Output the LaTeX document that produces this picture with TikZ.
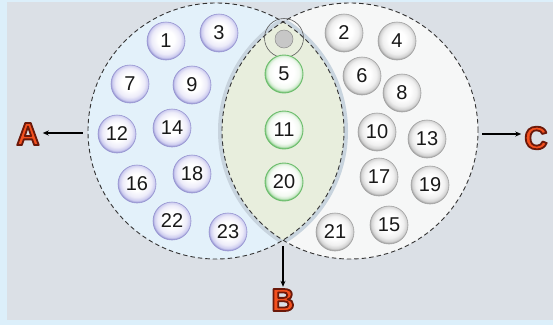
\documentclass[tikz,border=0pt]{standalone}
\usepackage{fontspec}
\setmainfont{Liberation Sans}
\usetikzlibrary{arrows.meta}
\definecolor{frame}{HTML}{DCEFFA}
\definecolor{bg}{HTML}{DBE0E6}
\definecolor{setA}{HTML}{E3F1FA}
\definecolor{setC}{HTML}{F6F7F7}
\definecolor{lens}{HTML}{E8EEDD}
\definecolor{band}{HTML}{C8D4DE}
\definecolor{lavmid}{HTML}{EDECF9}
\definecolor{lavout}{HTML}{C9C8EE}
\definecolor{lavrim}{HTML}{9896D2}
\definecolor{graymid}{HTML}{F0F0F0}
\definecolor{grayout}{HTML}{CFCFCF}
\definecolor{grayrim}{HTML}{A3A3A3}
\definecolor{grnmid}{HTML}{F3F9F2}
\definecolor{grnout}{HTML}{C4E6C2}
\definecolor{grnrim}{HTML}{6EBE6E}
\definecolor{letter}{HTML}{F4501E}
\newcommand{\outlined}[1]{\special{pdf:literal direct 2 Tr 1.8 w 0.42 0.1 0.04 RG 1 j}#1\special{pdf:literal direct 0 Tr}}
\pgfdeclareradialshading{lavshade}{\pgfpoint{0bp}{3bp}}{color(0bp)=(white); color(11bp)=(white); color(19bp)=(lavmid); color(24bp)=(lavout); color(25bp)=(lavrim); color(50bp)=(lavrim)}
\pgfdeclareradialshading{grayshade}{\pgfpoint{0bp}{3bp}}{color(0bp)=(white); color(11bp)=(white); color(19bp)=(graymid); color(24bp)=(grayout); color(25bp)=(grayrim); color(50bp)=(grayrim)}
\pgfdeclareradialshading{grnshade}{\pgfpoint{0bp}{3bp}}{color(0bp)=(white); color(13bp)=(white); color(20bp)=(grnmid); color(24bp)=(grnout); color(25bp)=(grnrim); color(50bp)=(grnrim)}
\tikzset{
  ball/.style={circle, minimum size=38pt, inner sep=0pt, line width=0.6pt, font=\fontsize{20}{20}\selectfont, text=black!90},
  lavball/.style={ball, shade, shading=lavshade, draw=lavrim},
  grayball/.style={ball, shade, shading=grayshade, draw=grayrim},
  grnball/.style={ball, shade, shading=grnshade, draw=grnrim, line width=0.9pt},
  setcirc/.style={circle, minimum size=256pt, inner sep=0pt},
  dashedset/.style={draw=black!80, line width=0.9pt, dash pattern=on 4.5pt off 3pt},
  setlabel/.style={inner sep=0pt, font=\fontsize{32}{32}\selectfont\bfseries, text=letter},
  arr/.style={line width=1.1pt, -{Stealth[length=6pt,width=5pt]}}
}
\begin{document}
\begin{tikzpicture}[x=1pt,y=-1pt]
\useasboundingbox (0,0) rectangle (553,325);
\fill[frame] (0,0) rectangle (553,325);
\fill[bg] (7,2) rectangle (553,320);
% set circles
\node[setcirc] (L) at (216,131) {};
\node[setcirc] (R) at (350,131) {};
\fill[setA] (L.center) circle[radius=128pt];
\fill[setC] (R.center) circle[radius=128pt];
\begin{scope}
  \clip (L.center) circle[radius=128pt];
  \draw[band, line width=8pt] (R.center) circle[radius=128pt];
\end{scope}
\begin{scope}
  \clip (R.center) circle[radius=128pt];
  \draw[band, line width=8pt] (L.center) circle[radius=128pt];
\end{scope}
\begin{scope}
  \clip (L.center) circle[radius=128pt];
  \fill[lens] (R.center) circle[radius=128pt];
\end{scope}
\draw[dashedset] (L.center) circle[radius=128pt];
\draw[dashedset] (R.center) circle[radius=128pt];
\coordinate (bot) at (283,240);
% top marker
\node[circle, draw=black!65, line width=0.6pt, minimum size=39pt, inner sep=0pt] (top) at (284,38) {};
\node[circle, fill=black!22, draw=black!45, line width=0.5pt, minimum size=18pt, inner sep=0pt] (topdot) at (284,39) {};
% set A
\node[lavball] (a1) at (166,41) {1};
\node[lavball] (a3) at (219,33) {3};
\node[lavball] (a7) at (130,84) {7};
\node[lavball] (a9) at (192,85) {9};
\node[lavball] (a12) at (117,134) {12};
\node[lavball] (a14) at (172,128) {14};
\node[lavball] (a16) at (137,184) {16};
\node[lavball] (a18) at (192,174) {18};
\node[lavball] (a22) at (172,221) {22};
\node[lavball] (a23) at (228,232) {23};
% intersection
\node[grnball] (b5) at (284,74) {5};
\node[grnball] (b11) at (284,130) {11};
\node[grnball] (b20) at (284,182) {20};
% set C
\node[grayball] (c2) at (344,33) {2};
\node[grayball] (c4) at (397,41) {4};
\node[grayball] (c6) at (362,76) {6};
\node[grayball] (c8) at (402,93) {8};
\node[grayball] (c10) at (377,132) {10};
\node[grayball] (c13) at (427,139) {13};
\node[grayball] (c17) at (379,177) {17};
\node[grayball] (c19) at (430,185) {19};
\node[grayball] (c21) at (335,232) {21};
\node[grayball] (c15) at (389,225) {15};
% labels
\node[setlabel] (A) at (28,134) {\outlined{A}};
\node[setlabel] (B) at (283,300) {\outlined{B}};
\node[setlabel] (C) at (536,138) {\outlined{C}};
% arrows
\draw[arr, shorten <=5pt, shorten >=3pt] (L.west) ++(0,2) -- (A.east |- 0,133);
\draw[arr, shorten <=6pt, shorten >=2pt] (bot) -- (B.north);
\draw[arr, shorten <=4pt, shorten >=3pt] (R.east) ++(0,3) -- (C.west |- 0,134);
\end{tikzpicture}
\end{document}
